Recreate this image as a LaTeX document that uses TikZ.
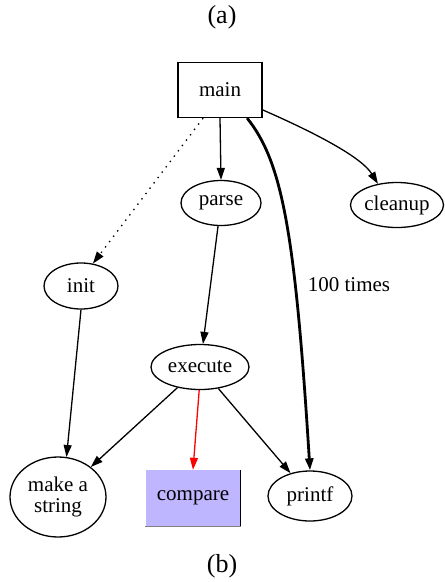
\documentclass[tikz,border=0pt]{standalone}
\usepackage{fontspec}
\setmainfont{Liberation Serif}
\usepackage{xcolor}
\usepackage{tikz}
\usetikzlibrary{shapes.geometric}
\usetikzlibrary{arrows.meta}
\definecolor{cmpfill}{RGB}{190,182,255}
\tikzset{
	oval/.style={draw,ellipse,line width=1.3pt,inner sep=0pt,font=\fontsize{21}{22}\selectfont},
	tip/.style={-{Triangle[length=12pt,width=8pt]}},
	edge/.style={line width=1.3pt,tip},
}

\begin{document}
\begin{tikzpicture}[x=1pt,y=-1pt]
					\useasboundingbox (0,0) rectangle (445,582);
					\node[font=\fontsize{26}{28}\selectfont] (capa) at (222,17) {(a)};
					\node[font=\fontsize{26}{28}\selectfont] (capb) at (222,566) {(b)};
					\node[draw,line width=1.3pt,minimum width=84pt,minimum height=55pt,font=\fontsize{21}{22}\selectfont] (main) at (220,90) {main};
					\node[oval,minimum width=80pt,minimum height=45pt] (parse) at (221,203) {parse};
					\node[oval,minimum width=93pt,minimum height=45pt] (cleanup) at (397,205) {cleanup};
					\node[oval,minimum width=74pt,minimum height=46pt] (init) at (81,286) {init};
					\node[oval,minimum width=98pt,minimum height=45pt] (execute) at (200,367) {execute};
					\node[oval,minimum width=96pt,minimum height=80pt,align=center,font=\fontsize{21}{21}\selectfont] (mkstr) at (58,497) {make a\\string};
					\node[fill=cmpfill,minimum width=95pt,minimum height=56pt,inner sep=0pt,font=\fontsize{21}{22}\selectfont] (cmp) at (193,498) {compare};
					\node[oval,minimum width=84pt,minimum height=50pt] (printf) at (310,496) {printf};
					\node[font=\fontsize{21}{22}\selectfont] (times) at (349,285) {100 times};
					\draw[line width=1.3pt] (cmp.north east)--(cmp.south east);
					\draw[line width=1.3pt,gray] (cmp.south west)--(cmp.south east);
					\draw[edge] (main.south)--(parse.north);
					\draw[edge,dash pattern=on 1.4pt off 5.3pt] (main.-121)--(init.62);
					\draw[edge] (main.-25) .. controls (320,135) and (362,158) .. (cleanup.132);
					\draw[tip,line width=2.8pt] (main.-46) .. controls (282,162) and (295,230) .. (printf.north);
					\draw[edge] (parse)--(execute);
					\draw[edge] (init.south)--(mkstr.78);
					\draw[edge] (execute)--(mkstr);
					\draw[edge,red] (execute.-92)--(cmp.north);
					\draw[edge] (execute)--(printf);
\end{tikzpicture}
\end{document}
